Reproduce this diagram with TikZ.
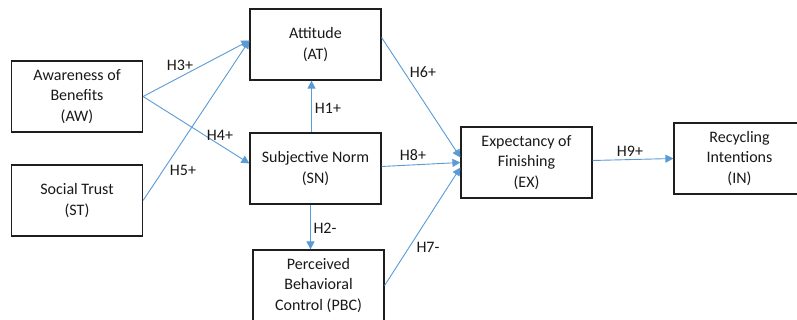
\documentclass[tikz,border=0pt]{standalone}
\usepackage{fontspec}
\setmainfont{Carlito}
\usetikzlibrary{arrows.meta,calc}
\definecolor{linkblue}{RGB}{91,155,213}
\definecolor{boxline}{RGB}{30,30,30}
\begin{document}
\begin{tikzpicture}[x=1pt,y=-1pt,
  box/.style={draw=boxline,line width=1.2pt,fill=white,minimum width=131pt,minimum height=71pt,
    inner sep=0pt,align=center,font=\fontsize{16}{20.7}\selectfont,text=black!90},
  link/.style={draw=linkblue,line width=0.9pt,-{Triangle[length=8pt,width=8pt]}},
  hyp/.style={font=\fontsize{16}{19}\selectfont,text=black!90,inner sep=0pt}]
\useasboundingbox[fill=white] (0,0) rectangle (797,320);
\clip (0,0) rectangle (797,320);
% boxes
\node[box] (AW)  at (77,96.5)    {Awareness of\\Benefits\\(AW)};
\node[box] (ST)  at (77,200.5)   {Social Trust\\(ST)};
\node[box] (AT)  at (315.5,44.5) {Attitude\\(AT)};
\node[box] (SN)  at (315.5,168.5){Subjective Norm\\(SN)};
\node[box] (PBC) at (318.5,285.5){Perceived\\Behavioral\\Control (PBC)};
\node[box] (EX)  at (526.5,162.5){Expectancy of\\Finishing\\(EX)};
\node[box] (IN)  at (739.5,158.5){Recycling\\Intentions\\(IN)};
% connector end points
\coordinate (ATin)  at ($(AT.west)+(0,-4)$);
\coordinate (SNin)  at ($(SN.west)+(0,-5)$);
\coordinate (SNtop) at ($(SN.north)+(-4,0)$);
\coordinate (ATbot) at ($(AT.south)+(-4,0)$);
\coordinate (SNbot) at ($(SN.south)+(-5,0)$);
\coordinate (PBCtop) at ($(PBC.north)+(-8,0)$);
\coordinate (ATout) at ($(AT.east)+(0,-7)$);
\coordinate (SNout) at ($(SN.east)+(0,-2)$);
\coordinate (EXin1) at ($(EX.west)+(0,-5)$);
\coordinate (EXin2) at ($(EX.west)+(0,0)$);
\coordinate (EXin3) at ($(EX.west)+(0,5)$);
\coordinate (EXout) at ($(EX.east)+(0,-2)$);
% connectors
\draw[link] (AW.east) -- (ATin);
\draw[link] (ST.east) -- (ATin);
\draw[link] (AW.east) -- (SNin);
\draw[link] (SNtop) -- (ATbot);
\draw[link] (SNbot) -- (PBCtop);
\draw[link] (ATout) -- (EXin1);
\draw[link] (SNout) -- (EXin2);
\draw[link] (PBC.east) -- (EXin3);
\draw[link] (EXout) -- (IN.west);
% labels
\node[hyp] (H3) at (180,65)  {H3+};
\node[hyp] (H4) at (220,135) {H4+};
\node[hyp] (H5) at (183,170) {H5+};
\node[hyp] (H1) at (328,108) {H1+};
\node[hyp] (H2) at (325,228) {H2-};
\node[hyp] (H6) at (423,72)  {H6+};
\node[hyp] (H8) at (413,155) {H8+};
\node[hyp] (H7) at (428,247) {H7-};
\node[hyp] (H9) at (630,151) {H9+};
\end{tikzpicture}
\end{document}
